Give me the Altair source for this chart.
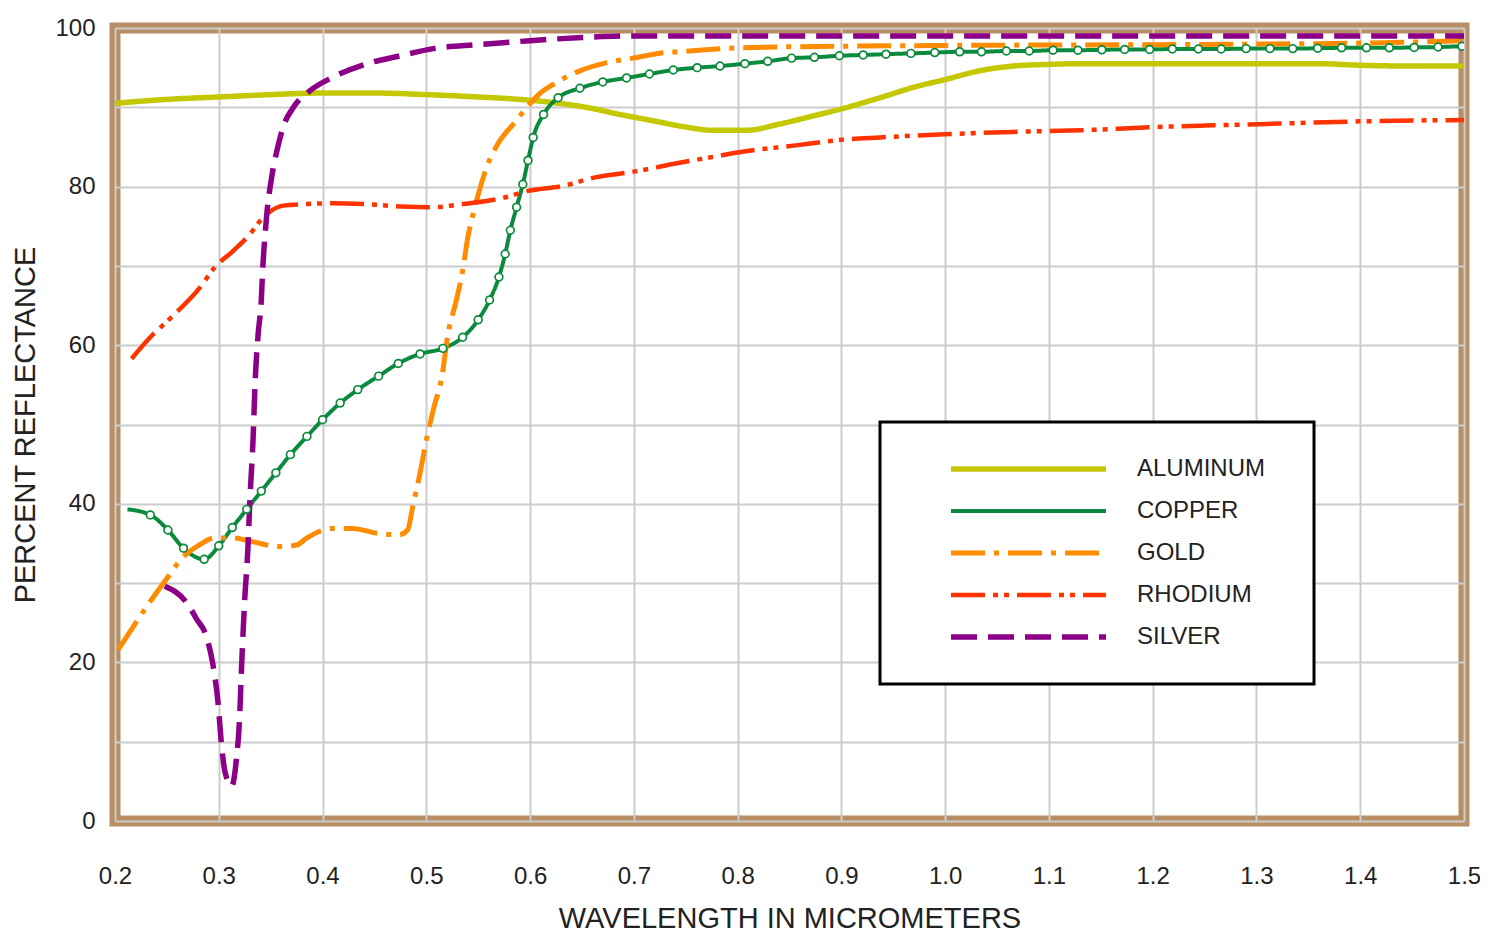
import altair as alt
import pandas as pd

# ---------------- data ----------------
metals = ["ALUMINUM", "COPPER", "GOLD", "RHODIUM", "SILVER"]

al_x = [0.2, 0.25, 0.3, 0.35, 0.4, 0.45, 0.5, 0.55, 0.59, 0.622, 0.654, 0.6865, 0.7186, 0.7507,
        0.776, 0.8086, 0.8407, 0.8725, 0.9, 0.937, 0.969, 1.0, 1.033, 1.065, 1.097, 1.13,
        1.3, 1.36, 1.4, 1.45, 1.5]
al_y = [90.5, 91.0, 91.3, 91.6, 91.8, 91.8, 91.6, 91.3, 91.0, 90.6, 90.0, 89.1, 88.3, 87.5,
        87.1, 87.1, 87.9, 88.9, 89.8, 91.2, 92.5, 93.5, 94.6, 95.2, 95.4, 95.5,
        95.5, 95.5, 95.3, 95.2, 95.2]

cu_x = [0.212, 0.234, 0.251, 0.266, 0.286, 0.300, 0.313, 0.327, 0.341, 0.355, 0.369, 0.385,
        0.400, 0.417, 0.434, 0.454, 0.473, 0.494, 0.516, 0.535, 0.550, 0.561, 0.570, 0.576,
        0.581, 0.587, 0.593, 0.598, 0.603, 0.613, 0.627, 0.648, 0.670, 0.693, 0.715, 0.738,
        0.761, 0.783, 0.807, 0.829, 0.852, 0.874, 0.898, 0.921, 0.943, 0.967, 0.990, 1.014,
        1.035, 1.059, 1.081, 1.104, 1.128, 1.151, 1.173, 1.197, 1.219, 1.244, 1.266, 1.290,
        1.313, 1.335, 1.359, 1.382, 1.406, 1.428, 1.452, 1.475, 1.498]
cu_y = [39.3, 38.6, 36.7, 34.4, 33.0, 34.7, 37.0, 39.3, 41.6, 43.9, 46.2, 48.5,
        50.6, 52.7, 54.4, 56.1, 57.7, 58.9, 59.6, 61.0, 63.2, 65.7, 68.6, 71.5,
        74.5, 77.4, 80.3, 83.3, 86.2, 89.1, 91.2, 92.4, 93.2, 93.7, 94.2, 94.7,
        95.0, 95.2, 95.5, 95.8, 96.2, 96.3, 96.5, 96.6, 96.7, 96.8, 96.9, 97.0,
        97.0, 97.1, 97.1, 97.2, 97.2, 97.25, 97.3, 97.3, 97.35, 97.35, 97.35, 97.4,
        97.4, 97.4, 97.45, 97.5, 97.5, 97.5, 97.55, 97.6, 97.7]

au_x = [0.203, 0.217, 0.233, 0.249, 0.265, 0.281, 0.296, 0.313, 0.333, 0.359, 0.375, 0.385,
        0.410, 0.429, 0.452, 0.474, 0.482, 0.487, 0.494, 0.500, 0.507, 0.515, 0.521, 0.529,
        0.535, 0.540, 0.546, 0.552, 0.558, 0.569, 0.584, 0.597, 0.609, 0.625, 0.648, 0.673,
        0.699, 0.731, 0.744, 0.8, 0.9, 1.0, 1.2, 1.4, 1.5]
au_y = [21.6, 24.4, 27.5, 30.4, 33.2, 34.8, 35.7, 35.7, 35.2, 34.6, 34.8, 35.7,
        36.9, 36.9, 36.3, 36.1, 36.7, 39.7, 43.9, 48.0, 52.0, 56.0, 61.5, 65.7,
        69.4, 73.6, 77.0, 79.9, 82.4, 85.4, 87.9, 90.0, 91.7, 93.1, 94.6, 95.6,
        96.2, 96.9, 97.0, 97.5, 97.7, 97.8, 97.9, 98.1, 98.4]

rh_x = [0.216, 0.234, 0.255, 0.282, 0.296, 0.314, 0.330, 0.340, 0.349, 0.362, 0.385, 0.410,
        0.440, 0.475, 0.507, 0.535, 0.568, 0.600, 0.632, 0.664, 0.696, 0.744, 0.783, 0.800,
        0.856, 0.900, 0.937, 1.0, 1.065, 1.13, 1.2, 1.25, 1.31, 1.39, 1.5]
rh_y = [58.3, 61.0, 63.6, 67.3, 69.8, 71.9, 74.0, 75.7, 76.8, 77.6, 77.8, 77.9,
        77.8, 77.5, 77.4, 77.8, 78.4, 79.5, 80.1, 81.2, 81.8, 83.0, 83.9, 84.3,
        85.2, 85.9, 86.2, 86.6, 86.9, 87.1, 87.5, 87.7, 87.9, 88.2, 88.4]

ag_x = [0.248, 0.268, 0.279, 0.288, 0.294, 0.299, 0.303, 0.306, 0.3125, 0.317, 0.320, 0.322,
        0.325, 0.328, 0.330, 0.333, 0.335, 0.338, 0.341, 0.342, 0.346, 0.351, 0.356, 0.362,
        0.372, 0.388, 0.410, 0.443, 0.475, 0.507, 0.55, 0.6, 0.65, 0.7, 1.0, 1.5]
ag_y = [29.6, 27.7, 25.4, 23.3, 20.0, 15.3, 9.1, 6.2, 4.4, 7.8, 12.8, 19.5,
        27.9, 34.2, 40.5, 48.0, 55.2, 61.5, 65.7, 68.6, 76.1, 81.2, 84.5, 87.5,
        90.0, 92.1, 93.8, 95.5, 96.5, 97.4, 97.9, 98.4, 98.8, 99.0, 99.0, 99.0]

x_ticks = [0.2, 0.3, 0.4, 0.5, 0.6, 0.7, 0.8, 0.9, 1.0, 1.1, 1.2, 1.3, 1.4, 1.5]
y_ticks = [0, 10, 20, 30, 40, 50, 60, 70, 80, 90, 100]

# ---------------- styles ----------------
colors = ["#c4c800", "#0a8a3c", "#ff8c00", "#ff3300", "#8b0086"]
dashes = [[1, 0], [1, 0], [34, 9, 5, 9], [34, 8, 5, 6, 5, 8], [26, 11]]
widths = [5.5, 4, 5, 4.5, 5.5]

rows = []
for name, xs, ys in [("ALUMINUM", al_x, al_y), ("COPPER", cu_x, cu_y), ("GOLD", au_x, au_y),
                     ("RHODIUM", rh_x, rh_y), ("SILVER", ag_x, ag_y)]:
    for i, (a, b) in enumerate(zip(xs, ys)):
        rows.append({"metal": name, "wl": a, "pct": b, "idx": i})
df = pd.DataFrame(rows)
cu_pts = pd.DataFrame({"wl": cu_x[1:], "pct": cu_y[1:]})

x_enc = alt.X("wl:Q", scale=alt.Scale(domain=[0.2, 1.5], nice=False, zero=False),
              axis=alt.Axis(values=x_ticks, format=".1f", labelFlush=False,
                            title="WAVELENGTH IN MICROMETERS"))
y_enc = alt.Y("pct:Q", scale=alt.Scale(domain=[0, 100], nice=False),
              axis=alt.Axis(values=y_ticks, labelExpr="datum.value % 20 == 0 ? datum.label : ''",
                            labelFlush=False, title="PERCENT REFLECTANCE"))

leg = alt.Legend(title="\u00a0", titleOrient="right", titlePadding=14, titleFontSize=24,
                 symbolType="stroke", orient="none", legendX=765, legendY=394,
                 clipHeight=24, rowPadding=18, padding=35, symbolOffset=33,
                 symbolSize=24025, symbolStrokeWidth=4, labelOffset=28,
                 labelFontSize=24, labelFont="Liberation Sans", labelColor="#222222",
                 strokeColor="black", fillColor="white")

lines = alt.Chart(df).mark_line(interpolate="monotone", clip=True, strokeCap="butt").encode(
    x=x_enc,
    y=y_enc,
    color=alt.Color("metal:N", scale=alt.Scale(domain=metals, range=colors), legend=leg),
    strokeDash=alt.StrokeDash("metal:N", scale=alt.Scale(domain=metals, range=dashes), legend=leg),
    strokeWidth=alt.StrokeWidth("metal:N", scale=alt.Scale(type="ordinal", domain=metals, range=widths),
                                legend=None),
    order="idx:Q",
)

points = alt.Chart(cu_pts).mark_point(shape="circle", filled=True, fill="white", stroke="#0a8a3c",
                                      strokeWidth=1.7, size=60, opacity=1, clip=True).encode(
    x="wl:Q", y="pct:Q")

chart = alt.layer(lines, points).properties(
    width=1349, height=793, autosize="none",
    padding={"left": 107, "top": 20, "right": 16, "bottom": 112},
    background="white",
).configure_view(
    stroke="#b88e65", strokeWidth=11
).configure_axis(
    domain=False, ticks=False, tickSize=0,
    grid=True, gridColor="#cccccc", gridWidth=2,
    labelFont="Liberation Sans", labelFontSize=24, labelColor="#222222",
    titleFont="Liberation Sans", titleFontSize=29, titleFontWeight="normal", titleColor="#222222",
).configure_axisX(
    labelPadding=43, titlePadding=16
).configure_axisY(
    labelPadding=20, titlePadding=14
).configure_legend(
    strokeWidth=3
)

chart.save("out.html", embed_options={"renderer": "svg", "actions": False})
